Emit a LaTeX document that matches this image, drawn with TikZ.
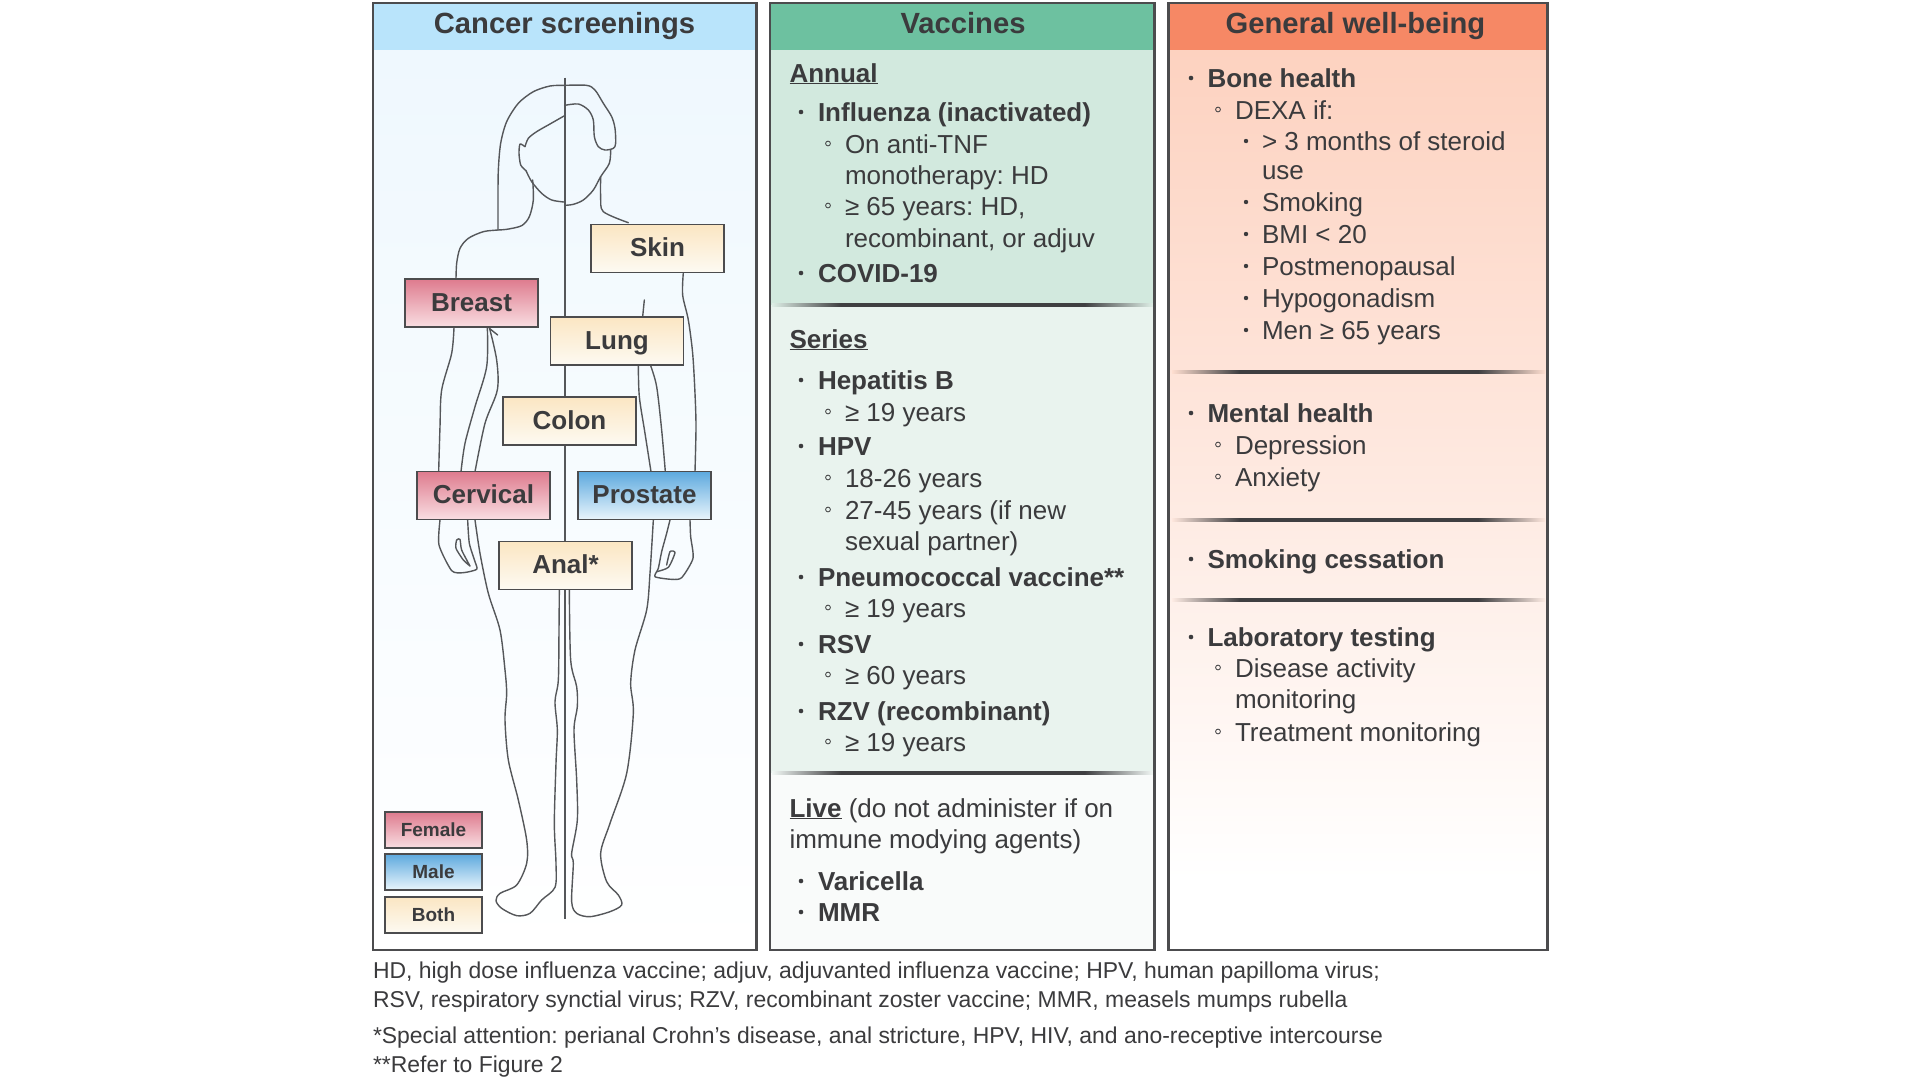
\documentclass[tikz,border=0pt]{standalone}
\usepackage{fontspec}
\setmainfont{Liberation Sans}
\frenchspacing
\definecolor{ink}{HTML}{3B3B3D}
\definecolor{edge}{HTML}{4C4C4E}
\definecolor{fig}{HTML}{55575A}
\definecolor{F1}{HTML}{DE7B8E}\definecolor{F2}{HTML}{F9DEE2}
\definecolor{M1}{HTML}{5DA9DE}\definecolor{M2}{HTML}{E9F5FC}
\definecolor{B1}{HTML}{FBE6C3}\definecolor{B2}{HTML}{FDFAF2}
\definecolor{cbody}{RGB}{239,248,254}
\definecolor{chead}{RGB}{185,228,251}
\definecolor{vhead}{RGB}{109,193,160}
\definecolor{vone}{RGB}{210,233,222}
\definecolor{vtwo}{RGB}{233,243,238}
\definecolor{vthree}{RGB}{249,251,250}
\definecolor{gbody}{RGB}{253,210,192}
\definecolor{ghead}{RGB}{246,136,101}
\definecolor{sa}{RGB}{222,238,230}
\definecolor{sb}{RGB}{241,247,244}
\definecolor{sc}{RGB}{254,222,208}
\definecolor{sd}{RGB}{254,231,221}
\definecolor{se}{RGB}{254,236,228}
\definecolor{sepd}{HTML}{3F3F41}
\newcommand{\mkshade}[2]{\pgfdeclarehorizontalshading{#1}{100bp}{color(0bp)=(#2); color(25bp)=(#2); color(34bp)=(sepd); color(66bp)=(sepd); color(75bp)=(#2); color(100bp)=(#2)}}
\mkshade{sepa}{sa}\mkshade{sepb}{sb}\mkshade{sepc}{sc}\mkshade{sepd}{sd}\mkshade{sepe}{se}
\newcounter{tn}
\tikzset{
  x=1pt,y=-1pt,
  txt/.style={anchor=base west,inner sep=0pt,outer sep=0pt,text=ink,font=\fontsize{26}{30}\selectfont},
  foot/.style={anchor=base west,inner sep=0pt,outer sep=0pt,text=ink,font=\fontsize{22.93}{26}\selectfont},
  title/.style={anchor=base,inner sep=0pt,outer sep=0pt,text=ink,font=\fontsize{29.2}{32}\selectfont\bfseries},
  panel/.style={draw=edge,line width=2.8pt},
  outline/.style={draw=fig,line width=1.4pt,line join=round,line cap=round},
  lab/.style={draw=edge,line width=1.9pt,inner sep=0pt,text=ink,text height=16pt,text depth=0pt,minimum width=133pt,minimum height=48pt,font=\fontsize{26}{30}\selectfont\bfseries},
  leg/.style={draw=edge,line width=1.7pt,inner sep=0pt,text=ink,text height=12pt,text depth=0pt,minimum width=97pt,minimum height=36pt,font=\fontsize{19}{22}\selectfont\bfseries},
  female/.style={top color=F1,bottom color=F2},
  male/.style={top color=M1,bottom color=M2},
  both/.style={top color=B1,bottom color=B2},
}
\newcommand{\TT}[3]{\stepcounter{tn}\node[txt] (t\thetn) at (#1,#2) {#3};}
\newcommand{\FT}[3]{\stepcounter{tn}\node[foot] (t\thetn) at (#1,#2) {#3};}
\newcommand{\BB}[4]{\fill[ink] (#1,#3-9) circle (2.3pt);\TT{#2}{#3}{\bfseries #4}}
\newcommand{\SB}[4]{\draw[ink,line width=0.8pt] (#1,#3-9.5) circle (2.4pt);\TT{#2}{#3}{#4}}
\newcommand{\DB}[4]{\fill[ink] (#1,#3-9) circle (2.2pt);\TT{#2}{#3}{#4}}
\newcommand{\SEP}[4]{\shade[shading=#4] (#1,#3-1.1) rectangle (#2,#3+1.1);}
\begin{document}
\begin{tikzpicture}
\useasboundingbox (0,0) rectangle (1920,1080);
\fill[white] (0,0) rectangle (1920,1080);
% ---------- panel fills
\shade[top color=cbody,bottom color=white] (373,50) rectangle (756.5,950);
\fill[chead] (373,3) rectangle (756.5,50);
\fill[vhead] (770,3) rectangle (1154.5,50);
\fill[vone] (770,50) rectangle (1154.5,305);
\fill[vtwo] (770,305) rectangle (1154.5,773);
\fill[vthree] (770,773) rectangle (1154.5,950);
\shade[top color=gbody,bottom color=white] (1168.5,50) rectangle (1547.5,880);
\fill[ghead] (1168.5,3) rectangle (1547.5,50);
% ---------- separators
\SEP{772}{1153}{305}{sepa}
\SEP{772}{1153}{773}{sepb}
\SEP{1172}{1545}{372}{sepc}
\SEP{1172}{1545}{520}{sepd}
\SEP{1172}{1545}{600}{sepe}
% ---------- figure (coordinates in 3x zoom units)
\begin{scope}[shift={(360,0)},x=0.33333pt,y=-0.33333pt]
\draw[draw=fig,line width=2pt] (614,233) -- (614,2758);
\draw[outline] plot[smooth,tension=0.5] coordinates {(614,256)(570,258)(520,275)(475,310)(440,365)(422,430)(415,510)(414,600)(414,690)};
\draw[outline] plot[smooth,tension=0.5] coordinates {(518,540)(520,600)(508,650)(485,677)(440,688)(414,690)(370,695)(325,715)(300,745)(290,790)(288,838)};
\draw[outline] plot[smooth,tension=0.5] coordinates {(612,348)(570,372)(530,395)(505,415)(495,440)};
\draw[outline] plot[smooth,tension=0.4] coordinates {(495,440)(480,432)(477,460)(482,495)(498,512)};
\draw[outline] plot[smooth,tension=0.5] coordinates {(498,512)(515,545)(545,580)(575,600)(612,606)};
\draw[outline] plot[smooth,tension=0.5] coordinates {(614,256)(680,256)(705,270)(730,310)(755,350)(765,385)(767,430)(760,445)(735,450)(715,440)(703,410)(700,360)(685,330)(655,312)(614,316)};
\draw[outline] plot[smooth,tension=0.5] coordinates {(752,450)(748,490)(722,530)(700,570)(670,600)(640,613)(614,616)};
\draw[outline] plot[smooth,tension=0.5] coordinates {(722,530)(722,590)(730,635)(805,668)};
\draw[outline] plot[smooth,tension=0.5] coordinates {(970,818)(968,885)(985,960)(998,1060)(1005,1180)(1008,1280)(1005,1415)};
\draw[outline] plot[smooth,tension=0.5] coordinates {(872,1097)(890,1160)(905,1290)(916,1415)};
\draw[outline] plot[smooth,tension=0.5] coordinates {(835,1097)(838,1190)(855,1300)(873,1415)};
\draw[outline] (853,900) -- (848,950);
\draw[outline] plot[smooth,tension=0.5] coordinates {(282,982)(275,1060)(245,1170)(240,1280)(236,1415)};
\draw[outline] plot[smooth,tension=0.5] coordinates {(382,982)(380,1100)(345,1220)(315,1330)(303,1415)};
\draw[outline] plot[smooth,tension=0.5] coordinates {(388,982)(410,1080)(412,1170)(375,1270)(345,1415)};
\draw[outline] (388,985) -- (413,1005);
\begin{scope}[yshift=-480pt]
\draw[outline] plot[smooth,tension=0.4] coordinates {(990,120)(992,170)(999,235)(965,293)(935,298)(885,290)(895,265)(905,215)(920,160)(930,120)};
\draw[outline] plot[smooth,tension=0.4] coordinates {(890,275)(925,262)(945,218)(930,215)(920,255)};
\draw[outline] plot[smooth,tension=0.4] coordinates {(240,120)(237,195)(275,272)(310,278)(350,268)(345,245)(328,190)(323,120)};
\draw[outline] plot[smooth,tension=0.4] coordinates {(330,258)(305,210)(300,178)(290,180)(288,205)(310,240)(330,258)};
\draw[outline] plot[smooth,tension=0.5] coordinates {(345,120)(360,220)(385,340)(420,450)(435,570)(440,640)(435,720)(445,840)(475,960)(500,1080)(500,1150)(470,1215)(420,1240)(408,1262)(425,1285)(470,1307)(510,1300)(545,1260)(585,1222)(588,1150)(583,1030)(588,850)(592,750)(585,665)(595,600)(597,450)(598,330)};
\draw[outline] plot[smooth,tension=0.5] coordinates {(628,330)(632,540)(650,620)(652,680)(642,750)(650,900)(652,1020)(635,1120)(640,1150)(635,1265)(650,1300)(690,1310)(750,1295)(785,1275)(775,1245)(740,1205)(722,1120)(750,1030)(800,880)(820,700)(812,610)(825,510)(860,390)(870,280)(880,120)};
\end{scope}
\end{scope}
% ---------- labels
\node[lab,both] (skin) at (657.5,248.5) {Skin};
\node[lab,female] (breast) at (471.5,303) {Breast};
\node[lab,both] (lung) at (617,341) {Lung};
\node[lab,both] (colon) at (569.5,421) {Colon};
\node[lab,female] (cervical) at (483.5,495.5) {Cervical};
\node[lab,male] (prostate) at (644.5,495.5) {Prostate};
\node[lab,both] (anal) at (565.5,565.5) {Anal*};
\node[leg,female] (lfemale) at (433.5,830) {Female};
\node[leg,male] (lmale) at (433.5,872) {Male};
\node[leg,both] (lboth) at (433.5,915) {Both};
% ---------- borders
\draw[panel] (373,3) rectangle (756.5,950);
\draw[panel] (770,3) rectangle (1154.5,950);
\draw[panel] (1168.5,3) rectangle (1547.5,950);
% ---------- titles
\node[title] (h1) at (564.5,33) {Cancer screenings};
\node[title] (h2) at (963,33) {Vaccines};
\node[title] (h3) at (1355.5,33) {General well-being};
% ---------- vaccines
\TT{789.5}{82}{\bfseries\underline{Annual}}
\BB{801}{818}{121}{Influenza (inactivated)}
\SB{828}{845}{153}{On anti-TNF}
\TT{845}{184}{monotherapy: HD}
\SB{828}{845}{215}{≥ 65 years: HD,}
\TT{845}{247}{recombinant, or adjuv}
\BB{801}{818}{282}{COVID-19}
\TT{789.5}{348}{\bfseries\underline{Series}}
\BB{801}{818}{389}{Hepatitis B}
\SB{828}{845}{421}{≥ 19 years}
\BB{801}{818}{455}{HPV}
\SB{828}{845}{487}{18-26 years}
\SB{828}{845}{519}{27-45 years (if new}
\TT{845}{550}{sexual partner)}
\BB{801}{818}{586}{Pneumococcal vaccine**}
\SB{828}{845}{617}{≥ 19 years}
\BB{801}{818}{653}{RSV}
\SB{828}{845}{684}{≥ 60 years}
\BB{801}{818}{720}{RZV (recombinant)}
\SB{828}{845}{751}{≥ 19 years}
\TT{789.5}{817}{\textbf{\underline{Live}} (do not administer if on}
\TT{789.5}{848}{immune modying agents)}
\BB{801}{818}{890}{Varicella}
\BB{801}{818}{921}{MMR}
% ---------- well-being
\BB{1191}{1207.5}{87}{Bone health}
\SB{1218}{1235}{119}{DEXA if:}
\DB{1246}{1262}{150}{> 3 months of steroid}
\TT{1262}{179}{use}
\DB{1246}{1262}{211}{Smoking}
\DB{1246}{1262}{243}{BMI < 20}
\DB{1246}{1262}{275}{Postmenopausal}
\DB{1246}{1262}{307}{Hypogonadism}
\DB{1246}{1262}{339}{Men ≥ 65 years}
\BB{1191}{1207.5}{422}{Mental health}
\SB{1218}{1235}{454}{Depression}
\SB{1218}{1235}{486}{Anxiety}
\BB{1191}{1207.5}{568}{Smoking cessation}
\BB{1191}{1207.5}{646}{Laboratory testing}
\SB{1218}{1235}{677}{Disease activity}
\TT{1235}{708}{monitoring}
\SB{1218}{1235}{741}{Treatment monitoring}
% ---------- footnotes
\FT{373}{978}{HD, high dose influenza vaccine; adjuv, adjuvanted influenza vaccine; HPV, human papilloma virus;}
\FT{373}{1007}{RSV, respiratory synctial virus; RZV, recombinant zoster vaccine; MMR, measels mumps rubella}
\FT{373}{1043}{*Special attention: perianal Crohn’s disease, anal stricture, HPV, HIV, and ano-receptive intercourse}
\FT{373}{1072}{**Refer to Figure 2}
\end{tikzpicture}
\end{document}
